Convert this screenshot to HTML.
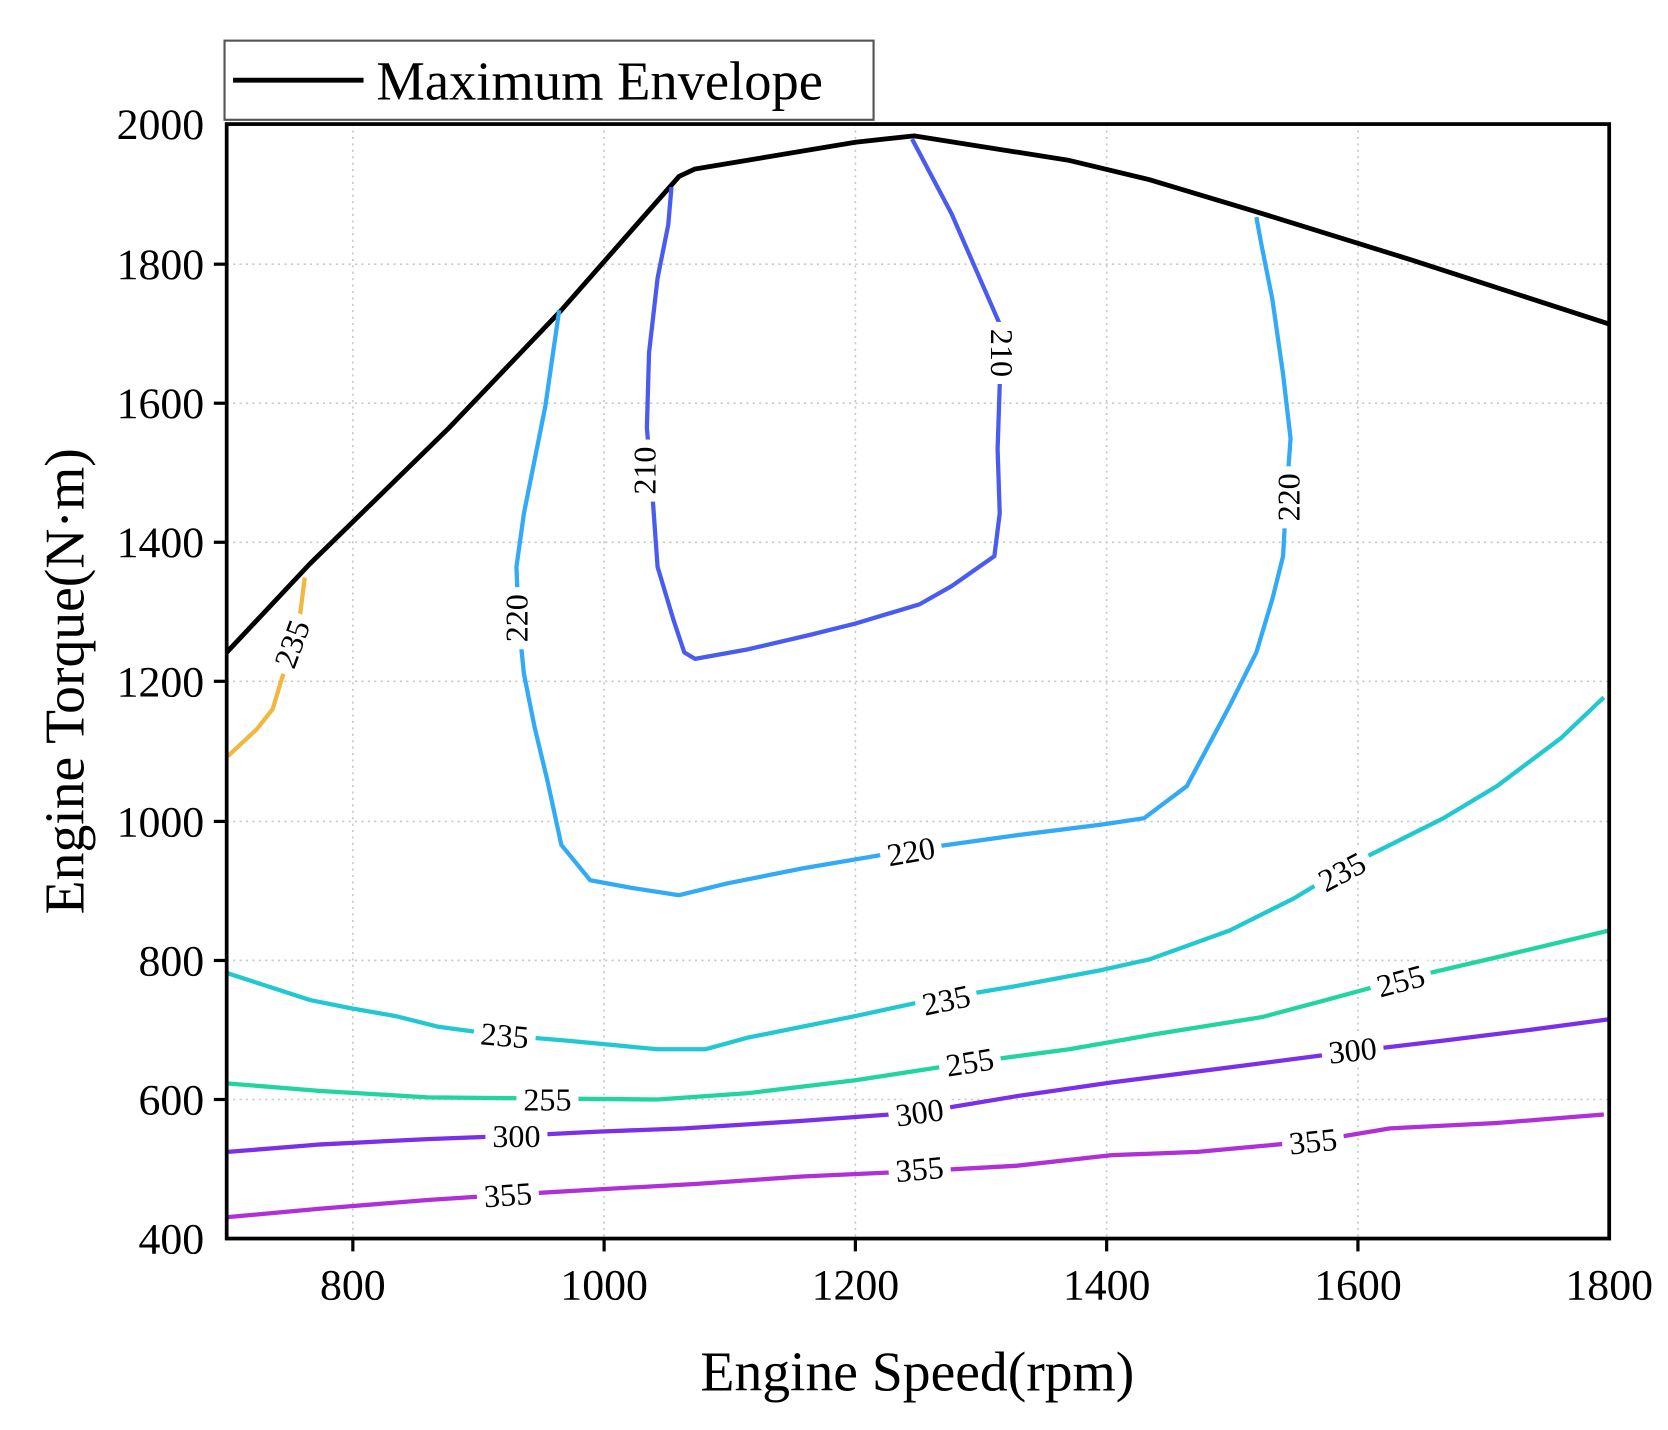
<!DOCTYPE html>
<html><head><style>html,body{margin:0;padding:0;background:#fff}svg{display:block}</style></head><body>
<svg width="1668" height="1430" viewBox="0 0 1560 1337" preserveAspectRatio="none" xmlns="http://www.w3.org/2000/svg" font-family="Liberation Serif, serif">
<g stroke="#c8c8c8" stroke-width="1.5" stroke-dasharray="2,4">
<line x1="330" y1="116" x2="330" y2="1158"/><line x1="565" y1="116" x2="565" y2="1158"/><line x1="800" y1="116" x2="800" y2="1158"/><line x1="1035" y1="116" x2="1035" y2="1158"/><line x1="1270" y1="116" x2="1270" y2="1158"/>
<line x1="212" y1="247" x2="1505" y2="247"/><line x1="212" y1="377" x2="1505" y2="377"/><line x1="212" y1="507" x2="1505" y2="507"/><line x1="212" y1="637" x2="1505" y2="637"/><line x1="212" y1="768" x2="1505" y2="768"/><line x1="212" y1="898" x2="1505" y2="898"/><line x1="212" y1="1028" x2="1505" y2="1028"/>
</g>
<g fill="none" stroke-width="4" stroke-linejoin="round">
<polyline stroke="#000" stroke-width="4.5" points="212,610 290,527 420,400 525,290 635,165 650,158 800,133 855,127 1000,150 1075,168 1175,198 1320,243 1505,303"/>
<polyline stroke="#4a5cf0" points="853,130 890,200 935,303 935,360 933,420 935,480 930,520 890,548 860,565 800,583 760,593 700,607 650,616 640,610 630,580 615,530 610,460 605,400 607,330 615,260 625,210 628,175"/>
<polyline stroke="#33aaf5" points="523,290 510,380 500,430 490,480 483,530 485,580 490,630 500,680 512,730 525,790 552,823 590,830 635,837 680,826 750,812 850,795 950,781 1030,771 1070,765 1110,735 1150,660 1175,610 1190,560 1200,520 1203,465 1207,410 1200,350 1190,280 1180,230 1175,203"/>
<polyline stroke="#f0b840" points="213,707 240,682 255,663 268,620 280,580 285,540"/>
<polyline stroke="#22c8d0" points="213,910 250,922 290,935 330,943 370,950 410,960 470,968 530,973 615,981 660,981 700,970 750,960 800,950 860,937 950,922 1030,907 1075,897 1150,870 1210,840 1260,810 1300,790 1350,765 1400,735 1460,690 1500,652"/>
<polyline stroke="#22d4a0" points="213,1013 300,1020 400,1026 500,1027 615,1028 700,1022 800,1010 910,993 1000,981 1080,967 1180,951 1240,935 1310,916 1400,895 1505,870"/>
<polyline stroke="#7a30e8" points="213,1077 300,1070 400,1065 480,1062 560,1058 640,1055 750,1048 860,1040 950,1025 1040,1012 1150,998 1265,983 1350,973 1430,963 1505,953"/>
<polyline stroke="#b030d8" points="213,1138 300,1130 400,1122 475,1117 560,1112 650,1107 750,1100 860,1095 950,1090 1040,1080 1120,1077 1228,1067 1300,1055 1400,1050 1500,1042"/>
</g>
<g font-size="30" text-anchor="middle" dominant-baseline="central">
<g transform="translate(603,440) rotate(-90)"><rect x="-29" y="-14" width="58" height="28" fill="#fff"/><text>210</text></g>
<g transform="translate(937,330) rotate(90)"><rect x="-29" y="-14" width="58" height="28" fill="#fff"/><text>210</text></g>
<g transform="translate(483,578) rotate(-90)"><rect x="-29" y="-14" width="58" height="28" fill="#fff"/><text>220</text></g>
<g transform="translate(1205,465) rotate(-90)"><rect x="-29" y="-14" width="58" height="28" fill="#fff"/><text>220</text></g>
<g transform="translate(852,796) rotate(-10)"><rect x="-29" y="-14" width="58" height="28" fill="#fff"/><text>220</text></g>
<g transform="translate(273,602) rotate(-70)"><rect x="-29" y="-14" width="58" height="28" fill="#fff"/><text>235</text></g>
<g transform="translate(472,968) rotate(5)"><rect x="-29" y="-14" width="58" height="28" fill="#fff"/><text>235</text></g>
<g transform="translate(885,935) rotate(-12)"><rect x="-29" y="-14" width="58" height="28" fill="#fff"/><text>235</text></g>
<g transform="translate(1255,815) rotate(-28)"><rect x="-29" y="-14" width="58" height="28" fill="#fff"/><text>235</text></g>
<g transform="translate(512,1028)"><rect x="-29" y="-14" width="58" height="28" fill="#fff"/><text>255</text></g>
<g transform="translate(907,993) rotate(-9)"><rect x="-29" y="-14" width="58" height="28" fill="#fff"/><text>255</text></g>
<g transform="translate(1310,917) rotate(-15)"><rect x="-29" y="-14" width="58" height="28" fill="#fff"/><text>255</text></g>
<g transform="translate(483,1062)"><rect x="-29" y="-14" width="58" height="28" fill="#fff"/><text>300</text></g>
<g transform="translate(860,1040) rotate(-8)"><rect x="-29" y="-14" width="58" height="28" fill="#fff"/><text>300</text></g>
<g transform="translate(1265,982) rotate(-6)"><rect x="-29" y="-14" width="58" height="28" fill="#fff"/><text>300</text></g>
<g transform="translate(475,1117) rotate(-4)"><rect x="-29" y="-14" width="58" height="28" fill="#fff"/><text>355</text></g>
<g transform="translate(860,1093) rotate(-5)"><rect x="-29" y="-14" width="58" height="28" fill="#fff"/><text>355</text></g>
<g transform="translate(1228,1067) rotate(-6)"><rect x="-29" y="-14" width="58" height="28" fill="#fff"/><text>355</text></g>
</g>
<rect x="212" y="116" width="1293" height="1042" fill="none" stroke="#000" stroke-width="3.5"/>
<g stroke="#000" stroke-width="3">
<line x1="330" y1="1158" x2="330" y2="1170"/><line x1="565" y1="1158" x2="565" y2="1170"/><line x1="800" y1="1158" x2="800" y2="1170"/><line x1="1035" y1="1158" x2="1035" y2="1170"/><line x1="1270" y1="1158" x2="1270" y2="1170"/>
<line x1="200" y1="247" x2="212" y2="247"/><line x1="200" y1="377" x2="212" y2="377"/><line x1="200" y1="507" x2="212" y2="507"/><line x1="200" y1="637" x2="212" y2="637"/><line x1="200" y1="768" x2="212" y2="768"/><line x1="200" y1="898" x2="212" y2="898"/><line x1="200" y1="1028" x2="212" y2="1028"/>
</g>
<g font-size="41" text-anchor="end">
<text x="191" y="130">2000</text><text x="191" y="261">1800</text><text x="191" y="391">1600</text><text x="191" y="521">1400</text><text x="191" y="651">1200</text><text x="191" y="782">1000</text><text x="191" y="912">800</text><text x="191" y="1042">600</text><text x="191" y="1172">400</text>
</g>
<g font-size="41" text-anchor="middle">
<text x="330" y="1215">800</text><text x="565" y="1215">1000</text><text x="800" y="1215">1200</text><text x="1035" y="1215">1400</text><text x="1270" y="1215">1600</text><text x="1505" y="1215">1800</text>
</g>
<text x="858" y="1300" font-size="52" text-anchor="middle">Engine Speed(rpm)</text>
<text transform="translate(78,637) rotate(-90)" font-size="52" text-anchor="middle">Engine Torque(N·m)</text>
<rect x="210" y="38" width="607" height="74" fill="#fff" stroke="#555" stroke-width="2"/>
<line x1="218" y1="75" x2="340" y2="75" stroke="#000" stroke-width="4.5"/>
<text x="352" y="93" font-size="51">Maximum Envelope</text>
</svg>
</body></html>
